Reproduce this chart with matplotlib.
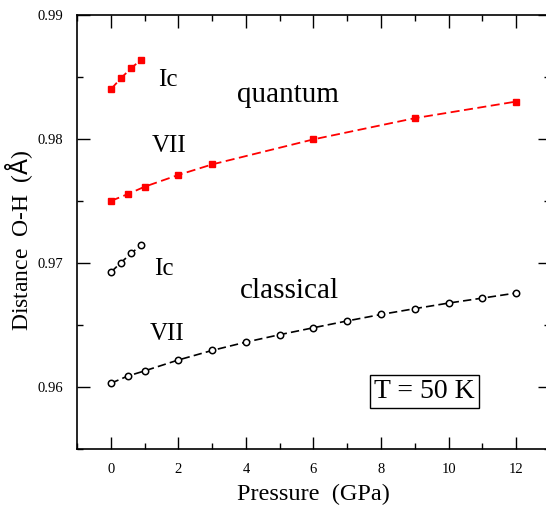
import numpy as np
import matplotlib
matplotlib.use('Agg')
import matplotlib.pyplot as plt
from matplotlib.ticker import MultipleLocator

plt.rcParams['font.family'] = ['Liberation Serif', 'DejaVu Serif']

# --- data ---
q_ic_p = [0.0, 0.3, 0.6, 0.9]
q_ic_d = [0.9840, 0.9849, 0.9857, 0.9864]

q_vii_p = [0, 0.5, 1, 2, 3, 6, 9, 12]
q_vii_d = [0.9750, 0.97555, 0.97615, 0.97710, 0.97795, 0.97997, 0.98168, 0.98302]

c_ic_p = [0.0, 0.3, 0.6, 0.9]
c_ic_d = [0.96925, 0.97003, 0.97077, 0.97145]

c_vii_p = [0, 0.5, 1, 2, 3, 4, 5, 6, 7, 8, 9, 10, 11, 12]
c_vii_d = [0.96030, 0.96088, 0.96130, 0.96218, 0.96295, 0.96362, 0.96422,
           0.96478, 0.96533, 0.96585, 0.96632, 0.96677, 0.96717, 0.96758]

fig = plt.figure(figsize=(5.46, 5.08), dpi=100)
ax = fig.add_axes([0.141, 0.1161, 0.8663, 0.8544])

red_style = dict(color='red', marker='s', markersize=4.8, linestyle=(0, (5, 2.5)),
                 linewidth=1.3, markerfacecolor='red', markeredgecolor='red')
blk_style = dict(color='black', marker='o', markersize=4.6, linestyle=(0, (5, 2.5)),
                 linewidth=1.2, markerfacecolor='white', markeredgecolor='black',
                 markeredgewidth=1.1)

ax.plot(q_ic_p, q_ic_d, **red_style)
ax.plot(q_vii_p, q_vii_d, **red_style)
ax.plot(c_ic_p, c_ic_d, **blk_style)
ax.plot(c_vii_p, c_vii_d, **blk_style)

ax.set_xlim(-1, 13)
ax.set_ylim(0.955, 0.99)
ax.xaxis.set_major_locator(MultipleLocator(2))
ax.xaxis.set_minor_locator(MultipleLocator(1))
ax.yaxis.set_major_locator(MultipleLocator(0.01))
ax.yaxis.set_minor_locator(MultipleLocator(0.005))
ax.yaxis.set_major_formatter(plt.FormatStrFormatter('%.2f'))

ax.tick_params(which='both', direction='in', top=True, right=True,
               labelsize=10.5, width=1.0, pad=10)
ax.tick_params(which='major', length=9)
ax.tick_params(which='minor', length=4.5)
for s in ax.spines.values():
    s.set_linewidth(1.2)

ax.set_xlabel('Pressure  (GPa)', fontsize=17.5)
ax.set_ylabel('Distance  O-H  ($\\mathrm{\\AA}$)', fontsize=17)
ax.xaxis.set_label_coords(0.5, -0.08)
ax.yaxis.set_label_coords(-0.088, 0.48)

ax.text(1.39, 0.98424, 'Ic', fontsize=18, ha='left', va='baseline')
ax.text(3.73, 0.98296, 'quantum', fontsize=21, ha='left', va='baseline')
ax.text(1.2, 0.97896, 'VII', fontsize=18, ha='left', va='baseline')
ax.text(1.28, 0.96904, 'Ic', fontsize=18, ha='left', va='baseline')
ax.text(3.82, 0.96718, 'classical', fontsize=21, ha='left', va='baseline')
ax.text(1.15, 0.96378, 'VII', fontsize=18, ha='left', va='baseline')
ax.text(9.29, 0.95966, 'T = 50 K', fontsize=20, ha='center', va='center',
        bbox=dict(boxstyle='square,pad=0.15', facecolor='white',
                  edgecolor='black', linewidth=1.0))

fig.savefig('out.png', dpi=100)
